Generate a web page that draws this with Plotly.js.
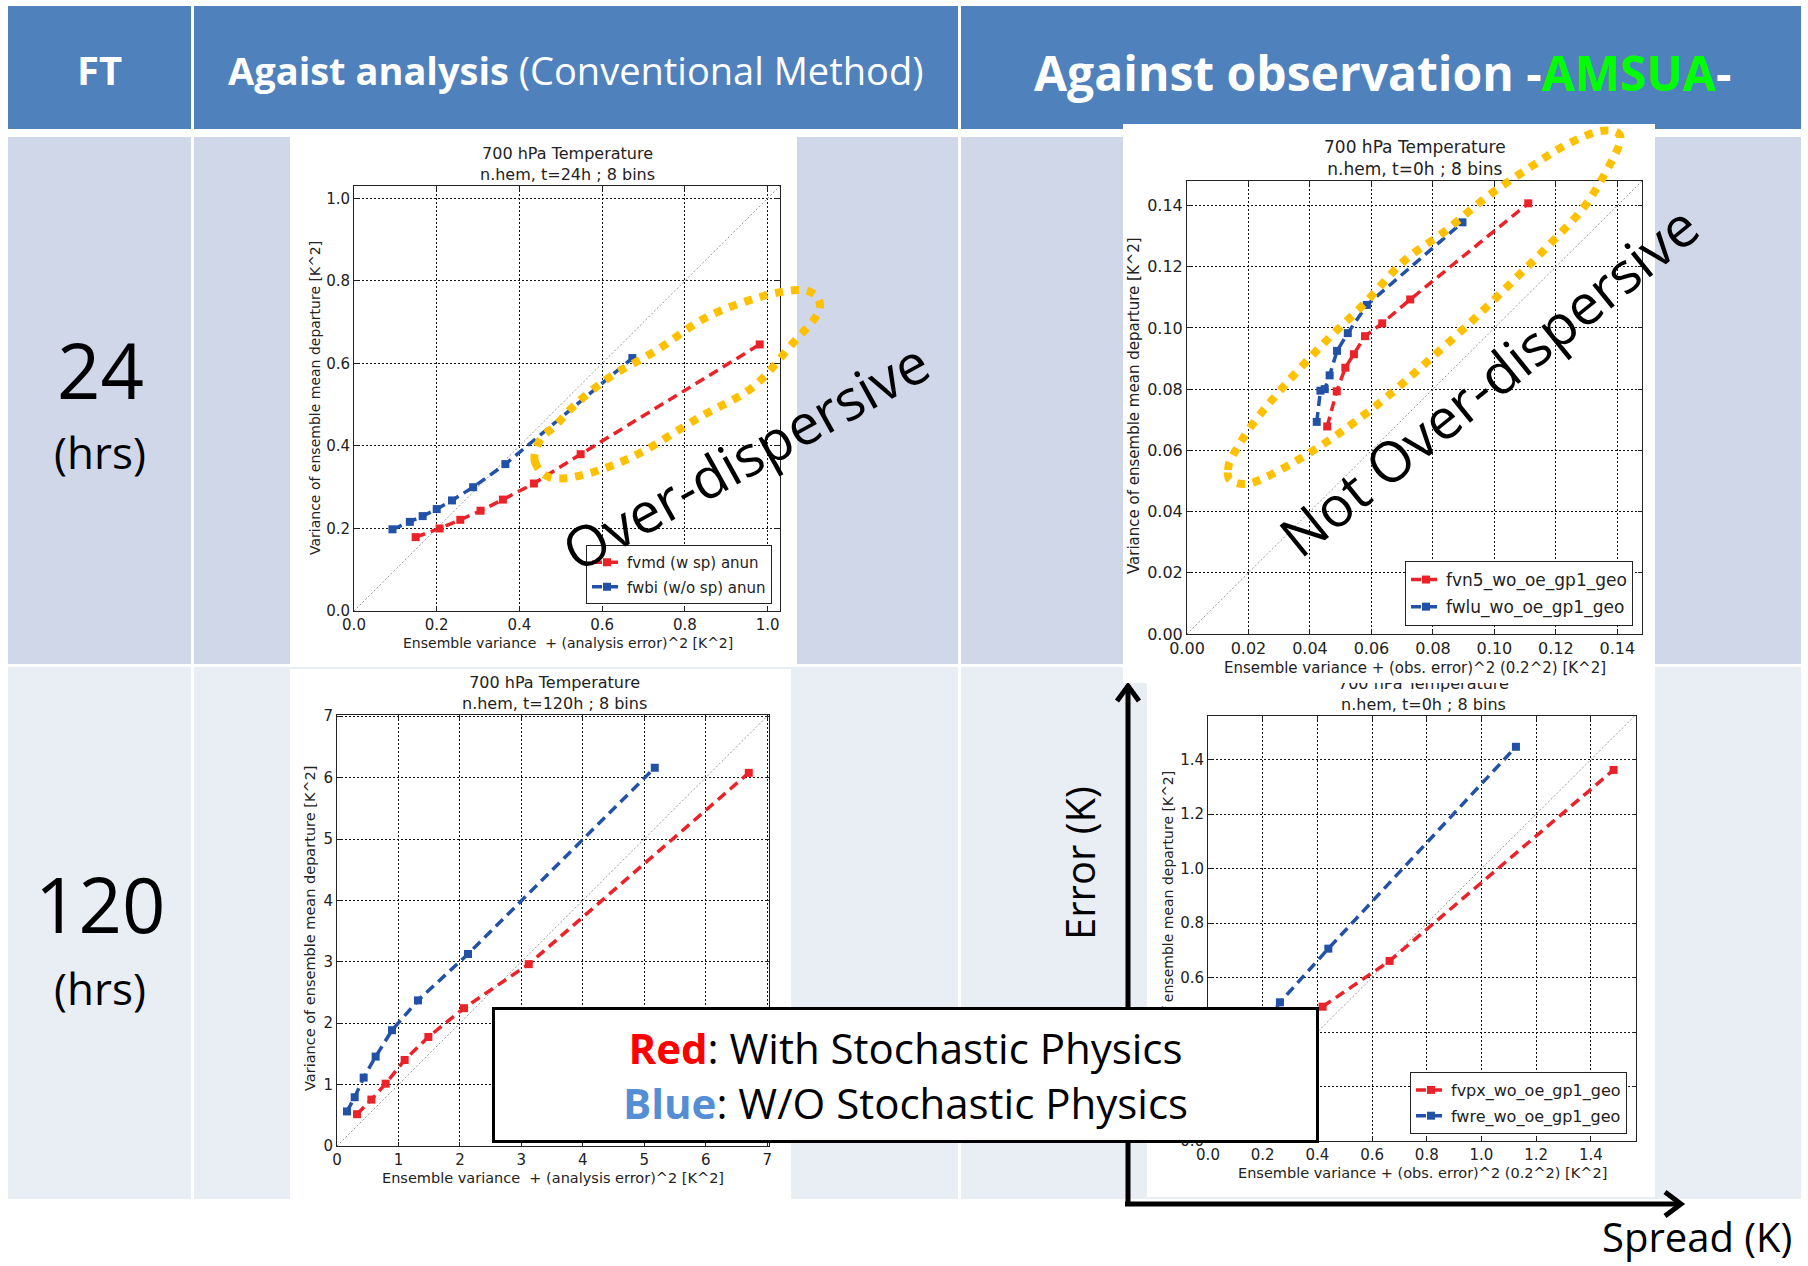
<!DOCTYPE html>
<html>
<head>
<meta charset="utf-8">
<script src="https://cdn.plot.ly/plotly-3.0.1.min.js"></script>
<style>html,body{margin:0;padding:0;background:#fff;}#chart{width:1808px;height:1266px;}</style>
</head>
<body>
<div id="chart"></div>
<script>
// ---------------- DATA ----------------
// Top-left: against analysis, t=24h
const tlRedX  = [0.149, 0.207, 0.257, 0.306, 0.360, 0.435, 0.548, 0.981];
const tlRedY  = [0.179, 0.200, 0.221, 0.243, 0.270, 0.309, 0.380, 0.646];
const tlBlueX = [0.093, 0.135, 0.166, 0.200, 0.237, 0.288, 0.366, 0.673];
const tlBlueY = [0.198, 0.216, 0.230, 0.247, 0.268, 0.300, 0.356, 0.613];
// Top-right: against observation AMSUA, t=0h (24h row)
const trRedX  = [0.0456, 0.0487, 0.0515, 0.0543, 0.0579, 0.0635, 0.0726, 0.1110];
const trRedY  = [0.0678, 0.0793, 0.0870, 0.0914, 0.0973, 0.1015, 0.1093, 0.1407];
const trBlueX = [0.0422, 0.0434, 0.0448, 0.0464, 0.0488, 0.0523, 0.0585, 0.0896];
const trBlueY = [0.0693, 0.0795, 0.0800, 0.0845, 0.0925, 0.0983, 0.1075, 0.1345];
// Bottom-left: against analysis, t=120h
const blRedX  = [0.326, 0.559, 0.792, 1.101, 1.487, 2.067, 3.120, 6.701];
const blRedY  = [0.518, 0.756, 1.015, 1.401, 1.776, 2.245, 2.962, 6.078];
const blBlueX = [0.163, 0.288, 0.434, 0.629, 0.895, 1.318, 2.132, 5.171];
const blBlueY = [0.563, 0.794, 1.114, 1.456, 1.886, 2.372, 3.127, 6.161];
// Bottom-right: against observation AMSUA (120h row); lowest bins hidden under the note box (estimated)
const brRedX  = [0.20, 0.25, 0.29, 0.33, 0.37, 0.419, 0.664, 1.483];
const brRedY  = [0.30, 0.35, 0.39, 0.42, 0.46, 0.493, 0.661, 1.362];
const brBlueX = [0.10, 0.14, 0.17, 0.20, 0.23, 0.263, 0.440, 1.126];
const brBlueY = [0.24, 0.31, 0.36, 0.41, 0.46, 0.509, 0.706, 1.447];

const legendNames = {
  tl: ['fvmd (w sp) anun', 'fwbi (w/o sp) anun'],
  tr: ['fvn5_wo_oe_gp1_geo', 'fwlu_wo_oe_gp1_geo'],
  br: ['fvpx_wo_oe_gp1_geo', 'fwre_wo_oe_gp1_geo']
};
const plotTitles = {
  tl: '700 hPa Temperature<br>n.hem, t=24h ; 8 bins',
  tr: '700 hPa Temperature<br>n.hem, t=0h ; 8 bins',
  bl: '700 hPa Temperature<br>n.hem, t=120h ; 8 bins',
  br: '700 hPa Temperature<br>n.hem, t=0h ; 8 bins'
};
const yLabel = 'Variance of ensemble mean departure [K^2]';
const xLabelAna = 'Ensemble variance  + (analysis error)^2 [K^2]';
const xLabelObs = 'Ensemble variance + (obs. error)^2 (0.2^2) [K^2]';

// ---------------- GEOMETRY HELPERS ----------------
const W = 1808, H = 1266;
const px = v => v / W;
const py = v => 1 - v / H;
const RED = '#ec2229', BLUE = '#2152a8';
const MPL = 'DejaVu Sans';
const SANS = 'Open Sans';

function axis(domPx, range, dtick, fmt, anchor, fs, isY) {
  return {
    domain: isY ? [py(domPx[1]), py(domPx[0])] : [px(domPx[0]), px(domPx[1])],
    range: range, autorange: false, tick0: 0, dtick: dtick, tickformat: fmt,
    anchor: anchor, showline: true, mirror: 'ticks', linecolor: '#222', linewidth: 1,
    ticks: 'inside', ticklen: 4, tickcolor: '#222',
    showgrid: true, gridcolor: '#111', griddash: '2px,2px', gridwidth: 1,
    zeroline: false, fixedrange: true,
    tickfont: {family: MPL, size: fs, color: '#222'}
  };
}

function series(xs, ys, color, name, xa, ya, leg, group, show) {
  return {type: 'scatter', mode: 'lines+markers', x: xs, y: ys, name: name,
    xaxis: xa, yaxis: ya, legend: leg, legendgroup: group, showlegend: show,
    line: {color: color, width: 3.5, dash: '10px,6px'},
    marker: {symbol: 'square', size: 8, color: color},
    hoverinfo: 'skip'};
}
function diag(r, xa, ya) {
  return {type: 'scatter', mode: 'lines', x: [0, r], y: [0, r], xaxis: xa, yaxis: ya,
    showlegend: false, hoverinfo: 'skip', line: {color: '#9a9a9a', width: 1, dash: '2px,2px'}};
}

const rTL = [0, 1.03], rTR = [0, 0.148], rBLx = [0, 7.03], rBLy = [0, 7.02], rBRx = [0, 1.565], rBRy = [0, 1.56];

const data = [
  diag(1.03, 'x', 'y'),
  series(tlRedX, tlRedY, RED, legendNames.tl[0], 'x', 'y', 'legend', 'a', true),
  series(tlBlueX, tlBlueY, BLUE, legendNames.tl[1], 'x', 'y', 'legend', 'b', true),
  diag(0.148, 'x2', 'y2'),
  series(trRedX, trRedY, RED, legendNames.tr[0], 'x2', 'y2', 'legend2', 'c', true),
  series(trBlueX, trBlueY, BLUE, legendNames.tr[1], 'x2', 'y2', 'legend2', 'd', true),
  diag(7.03, 'x3', 'y3'),
  series(blRedX, blRedY, RED, 'fvmd', 'x3', 'y3', 'legend', 'e', false),
  series(blBlueX, blBlueY, BLUE, 'fwbi', 'x3', 'y3', 'legend', 'f', false),
  diag(1.565, 'x4', 'y4'),
  series(brRedX, brRedY, RED, legendNames.br[0], 'x4', 'y4', 'legend3', 'g', true),
  series(brBlueX, brBlueY, BLUE, legendNames.br[1], 'x4', 'y4', 'legend3', 'h', true)
];

// ---------------- SHAPES ----------------
function rect(x0, x1, y0, y1, fill) {
  return {type: 'rect', xref: 'paper', yref: 'paper', x0: px(x0), x1: px(x1), y0: py(y1), y1: py(y0),
    fillcolor: fill, line: {width: 0}, layer: 'below'};
}
const HEAD = '#4f81bd', ROW1 = '#cfd7e8', ROW2 = '#e9edf4';
const cols = [[8, 191], [194, 958], [961, 1801]];
const rows = [[6, 129, HEAD], [137, 664, ROW1], [667, 1199, ROW2]];
const shapes = [];
rows.forEach(r => cols.forEach(c => shapes.push(rect(c[0], c[1], r[0], r[1], r[2]))));
// white picture panels
shapes.push(rect(290, 797, 137, 664, '#ffffff'));
shapes.push(rect(290, 791, 669, 1199, '#ffffff'));
shapes.push(rect(1147, 1655, 683, 1197, '#ffffff'));
shapes.push(rect(1123, 1655, 124, 683, '#ffffff'));

function loopPath(pts) {
  const n = pts.length;
  const P = i => pts[(i + n) % n];
  let d = 'M ' + px(P(0)[0]) + ',' + py(P(0)[1]);
  for (let i = 0; i < n; i++) {
    const p0 = P(i - 1), p1 = P(i), p2 = P(i + 1), p3 = P(i + 2);
    const c1 = [p1[0] + (p2[0] - p0[0]) / 6, p1[1] + (p2[1] - p0[1]) / 6];
    const c2 = [p2[0] - (p3[0] - p1[0]) / 6, p2[1] - (p3[1] - p1[1]) / 6];
    d += ' C ' + px(c1[0]) + ',' + py(c1[1]) + ' ' + px(c2[0]) + ',' + py(c2[1]) + ' ' + px(p2[0]) + ',' + py(p2[1]);
  }
  return d + ' Z';
}
const loopTL = [[535,462],[540,440],[556,425],[577,403],[610,377],[657,350],[707,317],[760,297],[797,290],[814,294],[820,305],[815,318],[793,343],[753,387],[700,417],[640,453],[590,473],[552,478]];
const loopTR = [[1228,470],[1232,457],[1252,425],[1284,386],[1324,343],[1364,304],[1404,261],[1444,232],[1488,196],[1532,166],[1564,146],[1596,132],[1616,132],[1620,142],[1608,168],[1584,207],[1548,246],[1512,282],[1472,321],[1428,361],[1388,396],[1356,421],[1328,441],[1296,461],[1262,479],[1244,484],[1230,480]];
[loopTL, loopTR].forEach(l => shapes.push({type: 'path', xref: 'paper', yref: 'paper', path: loopPath(l),
  line: {color: '#ffc000', width: 8, dash: '8px,8px'}, fillcolor: 'rgba(0,0,0,0)', layer: 'above'}));

function seg(pts) {
  let d = 'M ' + pts.map(p => px(p[0]) + ',' + py(p[1])).join(' L ');
  return {type: 'path', xref: 'paper', yref: 'paper', path: d, line: {color: '#000', width: 5}, layer: 'above'};
}
shapes.push(seg([[1128, 1206], [1128, 686]]));
shapes.push(seg([[1117, 701], [1128, 686], [1139, 701]]));
shapes.push(seg([[1125, 1204], [1680, 1204]]));
shapes.push(seg([[1665, 1192], [1681, 1204], [1665, 1216]]));

// ---------------- ANNOTATIONS ----------------
function txt(text, x, y, size, opts) {
  return Object.assign({text: text, xref: 'paper', yref: 'paper', x: px(x), y: py(y),
    xanchor: 'center', yanchor: 'middle', showarrow: false,
    font: {family: SANS, size: size, color: '#000'}}, opts || {});
}
function mtxt(text, x, y, size, angle) {
  return {text: text, xref: 'paper', yref: 'paper', x: px(x), y: py(y), xanchor: 'center', yanchor: 'middle',
    showarrow: false, textangle: angle || 0, font: {family: MPL, size: size, color: '#222'}};
}
const ann = [
  txt('<b>FT</b>', 99, 70, 40, {font: {family: SANS, size: 40, color: '#fff'}}),
  txt('<b>Agaist analysis</b> (Conventional Method)', 575, 70, 38, {font: {family: SANS, size: 38, color: '#fff'}}),
  txt('<b>Against observation -<span style="color:#00ff00">AMSUA</span>-</b>', 1382, 72, 48, {font: {family: SANS, size: 48, color: '#fff'}}),
  txt('24', 100, 369, 76),
  txt('(hrs)', 100, 452, 44),
  txt('120', 100, 903, 76),
  txt('(hrs)', 100, 988, 44),
  // TL panel
  mtxt(plotTitles.tl, 567, 164, 16),
  mtxt(xLabelAna, 568, 643, 14),
  mtxt(yLabel, 315, 398, 14, -90),
  // BL panel
  mtxt(plotTitles.bl, 554, 693, 16),
  mtxt(xLabelAna, 553, 1178, 14.5),
  mtxt(yLabel, 310, 929, 14.5, -90),
  // BR panel
  mtxt(plotTitles.br, 1423, 694, 16),
  mtxt(xLabelObs, 1422, 1173, 14.5),
  mtxt(yLabel, 1168, 928, 14, -90),
  // TR picture overlapping the BR title
  {text: ' ', xref: 'paper', yref: 'paper', x: px(1123), y: py(683), xanchor: 'left', yanchor: 'bottom',
   showarrow: false, width: 532, height: 25, bgcolor: '#ffffff', borderpad: 0, borderwidth: 0},
  // TR panel
  mtxt(plotTitles.tr, 1415, 158, 17),
  mtxt(xLabelObs, 1415, 668, 15),
  mtxt(yLabel, 1134, 406, 15, -90),
  // statements
  txt('Over-dispersive', 745, 455, 56, {textangle: -29}),
  txt('Not Over-dispersive', 1488, 380, 56, {textangle: -39}),
  txt('Error (K)', 1079, 863, 40, {textangle: -90}),
  txt('Spread (K)', 1697, 1236, 40),
  txt('<b><span style="color:#ff0000">Red</span></b>: With Stochastic Physics<br><b><span style="color:#558ed5">Blue</span></b>: W/O Stochastic Physics',
      905, 1075, 42, {bgcolor: '#ffffff', bordercolor: '#000', borderwidth: 3, borderpad: 1, width: 819, height: 128})
];

function legendAt(right, bottom, fs) {
  return {x: px(right), xanchor: 'right', y: py(bottom), yanchor: 'bottom', bgcolor: '#ffffff',
    bordercolor: '#222', borderwidth: 1, tracegroupgap: 2, traceorder: 'grouped',
    font: {family: MPL, size: fs, color: '#222'}};
}

const layout = {
  width: W, height: H, margin: {l: 0, r: 0, t: 0, b: 0},
  paper_bgcolor: '#ffffff', plot_bgcolor: 'rgba(0,0,0,0)', showlegend: true,
  xaxis:  axis([354, 780], rTL, 0.2, '.1f', 'y', 15, false),
  yaxis:  axis([186, 611], rTL, 0.2, '.1f', 'x', 15, true),
  xaxis2: axis([1187, 1642], rTR, 0.02, '.2f', 'y2', 16, false),
  yaxis2: axis([181, 634], rTR, 0.02, '.2f', 'x2', 16, true),
  xaxis3: axis([337, 769], rBLx, 1, 'd', 'y3', 15, false),
  yaxis3: axis([715, 1146], rBLy, 1, 'd', 'x3', 15, true),
  xaxis4: axis([1208, 1636], rBRx, 0.2, '.1f', 'y4', 15, false),
  yaxis4: axis([716, 1141], rBRy, 0.2, '.1f', 'x4', 15, true),
  legend:  legendAt(772, 604, 15),
  legend2: legendAt(1633, 626, 17),
  legend3: legendAt(1627, 1134, 16),
  shapes: shapes,
  annotations: ann
};

Plotly.newPlot('chart', data, layout, {staticPlot: true, displayModeBar: false});
</script>
</body>
</html>
